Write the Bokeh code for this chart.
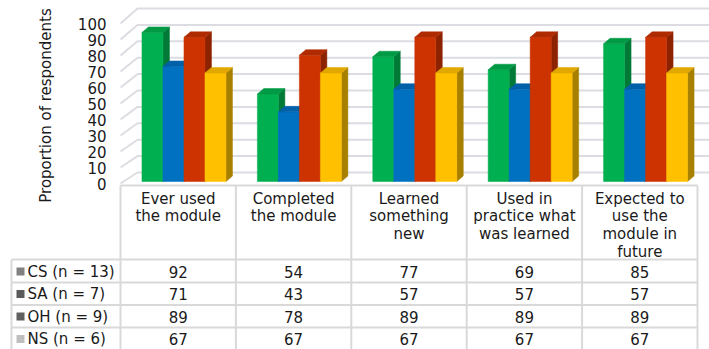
import numpy as np
from bokeh.plotting import figure
from bokeh.models import Range1d
from bokeh.embed import file_html
from bokeh.resources import INLINE
from bokeh.core.properties import value

# ---------------- data ----------------
categories = [
    ["Ever used", "the module"],
    ["Completed", "the module"],
    ["Learned", "something", "new"],
    ["Used in", "practice what", "was learned"],
    ["Expected to", "use the", "module in", "future"],
]
series_names = ["CS (n = 13)", "SA (n = 7)", "OH (n = 9)", "NS (n = 6)"]
cs_values = [92, 54, 77, 69, 85]
sa_values = [71, 43, 57, 57, 57]
oh_values = [89, 78, 89, 89, 89]
ns_values = [67, 67, 67, 67, 67]
y_ticks = [0, 10, 20, 30, 40, 50, 60, 70, 80, 90, 100]
y_title = "Proportion of respondents"

series_values = [cs_values, sa_values, oh_values, ns_values]
front_colors = ["#00b050", "#0070c0", "#cc3300", "#ffc000"]
top_colors = ["#009944", "#0060a8", "#b02a00", "#e0a800"]
side_colors = ["#007a36", "#004f8c", "#8c2200", "#a88000"]
key_colors = ["#808080", "#5a5a5a", "#606060", "#bfbfbf"]

# ---------------- layout (pixels -> data units) ----------------
W, H = 709, 349
CAT_PX = 115.4          # px per category column
X0_PX = 120             # px of category 0 left edge
Y_SCALE = 1.62          # px per value unit
BASE_PX = 181           # px of value 0 (bar base)

def dx(px):
    return (px - X0_PX) / CAT_PX

def dy(py):
    return (BASE_PX - py) / Y_SCALE

x_start = dx(0)
x_end = dx(W)
y_end = dy(0)
y_start = dy(H)

p = figure(width=W, height=H, x_range=Range1d(x_start, x_end),
           y_range=Range1d(y_start, y_end), output_backend="svg",
           toolbar_location=None, min_border=0,
           x_axis_location=None, y_axis_location=None)
p.grid.visible = False
p.outline_line_color = None
p.background_fill_color = "white"
p.border_fill_color = "white"

FONT = value("DejaVu Sans")
FS = "15px"
TXT = "#1a1a1a"
GRID = "#dcdde2"
TABLE = "#d9d9d9"

# ---------------- walls / gridlines ----------------
xs_g, ys_g = [], []
x_back = dx(137)
for v in y_ticks:
    yf = (1.6 * v - 2) / Y_SCALE
    yb = (9 + 1.64 * v) / Y_SCALE
    xs_g.append([0, x_back, x_end])
    ys_g.append([yf, yb, yb])
p.multi_line(xs_g, ys_g, line_color=GRID, line_width=2)

# ---------------- 3D bars ----------------
BAR_OFF = 0.186
BAR_W = 0.182
DEPTH_X = 6.5 / CAT_PX
DEPTH_Y = 5.5 / Y_SCALE

for j, vals in enumerate(series_values):
    lefts = np.arange(len(vals)) + BAR_OFF + j * BAR_W
    rights = lefts + BAR_W
    tops = np.array(vals, dtype=float)
    top_xs = [[l, r, r + DEPTH_X, l + DEPTH_X] for l, r in zip(lefts, rights)]
    top_ys = [[t, t, t + DEPTH_Y, t + DEPTH_Y] for t in tops]
    side_xs = [[r, r + DEPTH_X, r + DEPTH_X, r] for r in rights]
    side_ys = [[0, DEPTH_Y, t + DEPTH_Y, t] for t in tops]
    p.patches(side_xs, side_ys, fill_color=side_colors[j], line_color=side_colors[j], line_width=0.5)
    p.quad(left=lefts, right=rights, bottom=0, top=tops,
           fill_color=front_colors[j], line_color=front_colors[j], line_width=0.5)
    p.patches(top_xs, top_ys, fill_color=top_colors[j], line_color=top_colors[j], line_width=0.5)

# ---------------- y tick labels & title ----------------
p.text(x=[dx(106)] * len(y_ticks), y=[(1.6 * v - 2) / Y_SCALE for v in y_ticks],
       text=[str(v) for v in y_ticks], text_align="right", text_baseline="middle",
       text_font=FONT, text_font_size=FS, text_color=TXT)
p.text(x=[dx(45)], y=[dy(105)], text=[y_title], angle=np.pi / 2,
       text_align="center", text_baseline="middle",
       text_font=FONT, text_font_size=FS, text_color=TXT)

# ---------------- data table ----------------
row_py = [271, 293.5, 316, 338.5]
row_lines_py = [259, 282, 304.5, 327]
col_px = [X0_PX + CAT_PX * i for i in range(len(categories) + 1)]

hx, hy = [], []
hx.append([dx(col_px[0]), dx(col_px[-1])]); hy.append([dy(185), dy(185)])
for py in row_lines_py:
    hx.append([dx(11), dx(col_px[-1])]); hy.append([dy(py), dy(py)])
hx.append([dx(11), dx(11)]); hy.append([dy(259), dy(H + 5)])
for cx in col_px:
    hx.append([dx(cx), dx(cx)]); hy.append([dy(185), dy(H + 5)])
p.multi_line(hx, hy, line_color=TABLE, line_width=2)

# header text
hx_t, hy_t, ht = [], [], []
for i, lines in enumerate(categories):
    for k, ln in enumerate(lines):
        hx_t.append(i + 0.5)
        hy_t.append(dy(198 + 17.7 * k))
        ht.append(ln)
p.text(x=hx_t, y=hy_t, text=ht, text_align="center", text_baseline="middle",
       text_font=FONT, text_font_size=FS, text_color=TXT)

# values
vx, vy, vt = [], [], []
for j, vals in enumerate(series_values):
    for i, v in enumerate(vals):
        vx.append(i + 0.5); vy.append(dy(row_py[j])); vt.append(str(v))
p.text(x=vx, y=vy, text=vt, text_align="center", text_baseline="middle",
       text_font=FONT, text_font_size=FS, text_color=TXT)

# row labels with keys
p.rect(x=[dx(20)] * 4, y=[dy(py) for py in row_py], width=8 / CAT_PX, height=8 / Y_SCALE,
       fill_color=key_colors, line_color=None)
p.text(x=[dx(27)] * 4, y=[dy(py) for py in row_py], text=series_names,
       text_align="left", text_baseline="middle",
       text_font=FONT, text_font_size=FS, text_color=TXT)

open("out.html", "w").write(file_html(p, INLINE))
